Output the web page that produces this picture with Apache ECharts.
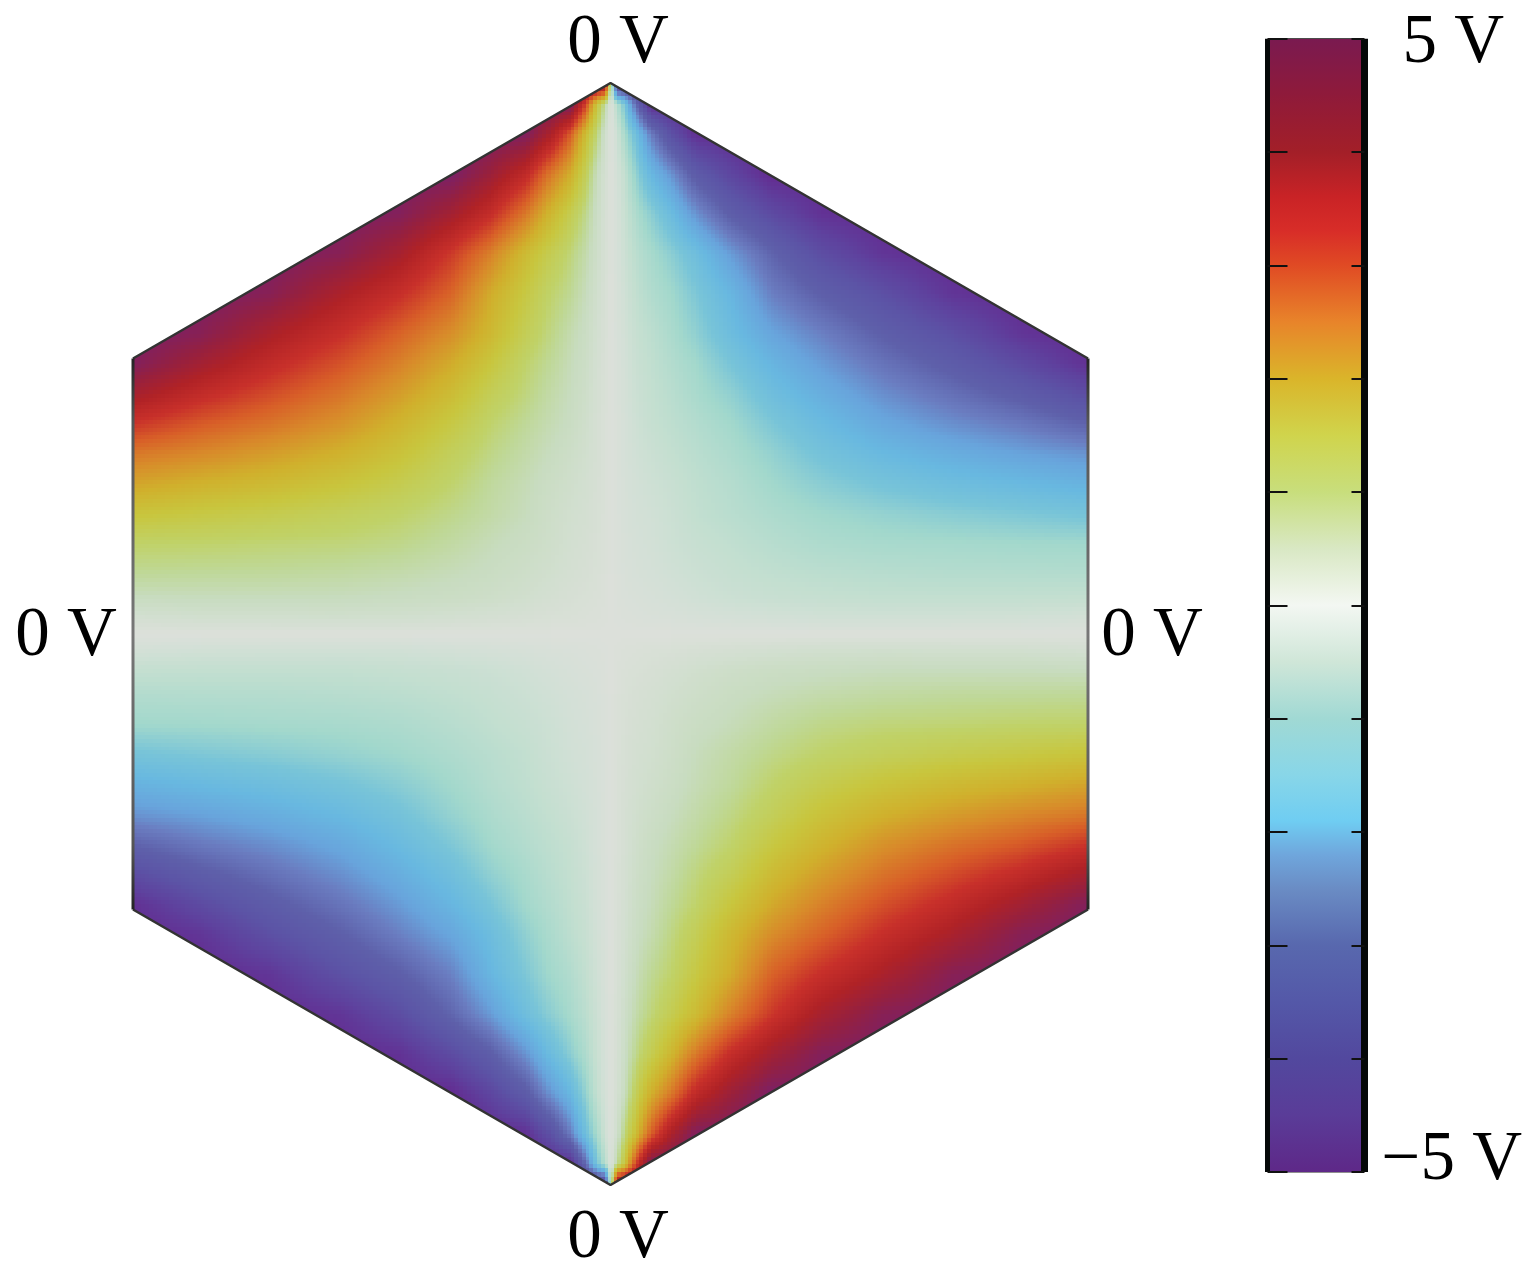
<!DOCTYPE html>
<html><head><meta charset="utf-8">
<style>html,body{margin:0;padding:0;background:#fff}#c{width:1539px;height:1279px}</style>
<script src="https://cdn.jsdelivr.net/npm/echarts@6/dist/echarts.min.js"></script>
</head><body><div id="c"></div>
<script>
// Colour scale (volts -> colour)
const barVolts  = [-5,-4.5,-4,-3.5,-3,-2.5,-2.2,-1.9,-1.5,-1,-0.5,0,0.5,1,1.5,2,2.5,3,3.3,3.6,4,4.5,5];
const barColors = ['#5e2888','#5a3c98','#52489e','#5458a8','#5868ae','#6a8cc4','#6fa6dc','#6fcdf2','#88d6e8','#a0d9d4','#cfe6d8','#f3f7f2','#d9e8c4','#c8de7c','#d0d44c','#dab52a','#e8842a','#e04a24','#d82d28','#c92326','#a31f28','#8f1a3a','#7a1a50'];
// The hexagon map itself is rendered in a duller tone than the bar
const mapVolts  = [-5,-4.5,-4,-3.5,-3,-2.5,-2,-1.5,-1,-0.5,-0.25,0,0.25,0.5,0.75,1,1.5,2,2.5,3,3.5,4,4.5,5];
const mapColors = ['#642a90','#5e429e','#5c54a6','#5e60aa','#6a7cc0','#68a4dc','#68b8e0','#78c4d8','#a2d8cc','#c4dfd0','#d2e0d6','#dce0da','#d2dfd0','#c8dcc0','#bfd898','#c0d268','#c8c63e','#d0b02c','#d88a2a','#d85f28','#c8302a','#b02226','#952040','#7a2068'];
const barTicks = [-5,-4,-3,-2,-1,0,1,2,3,4,5];
const barTickLabels = {'5':'5 V','-5':'\u22125 V'};

// Field mesh: distance from the hexagon's centre, and volts read at each mesh node (upper-left quadrant).
const meshDx = [0,6,14,25,40,60,85,120,160,210,270,340,410,477.5];
const meshDy = [0,15,35,60,90,120,150,180,210,240,270,300,340,380,420,460,500,530,551];
const quadrantVolts = [
[0,0,0,0,0,0,0,0,0,0,0,0,0,0],
[0,.02,.04,.06,.08,.1,.14,.18,.22,.26,.27,.26,.25,.2],
[0,.04,.07,.1,.14,.2,.28,.36,.42,.46,.5,.5,.5,.48],
[0,.05,.1,.15,.2,.28,.36,.46,.54,.62,.68,.72,.73,.75],
[0,.06,.12,.18,.24,.34,.44,.54,.68,.82,.9,.93,.98,1],
[0,.07,.14,.22,.27,.37,.52,.66,.82,1,1.15,1.3,1.42,1.55],
[0,.07,.15,.24,.32,.42,.56,.72,.98,1.28,1.55,1.78,1.95,2.15],
[0,.08,.18,.28,.38,.5,.64,.84,1.15,1.58,1.95,2.25,2.5,2.7],
[0,.08,.18,.32,.46,.58,.74,.98,1.42,1.89,2.38,2.75,3.05,3.45],
[0,.09,.2,.36,.5,.65,.88,1.2,1.74,2.24,2.75,3.2,3.65,4.2],
[0,.1,.22,.4,.54,.74,.98,1.5,2.06,2.59,3.13,3.65,4.25,4.85],
[0,.12,.25,.44,.6,.85,1.2,1.82,2.44,2.94,3.53,4.1,4.76,5],
[0,.14,.3,.52,.76,.98,1.42,2.05,2.94,3.54,4.08,4.75,5,5],
[0,.16,.36,.62,.9,1.25,1.75,2.6,3.4,4.17,4.75,5,5,5],
[0,.18,.42,.8,1.25,1.85,2.7,3.6,4.25,4.83,5,5,5,5],
[0,.22,.5,1.15,2,2.7,3.7,4.4,5,5,5,5,5,5],
[0,.32,.9,1.7,3,4.1,4.9,5,5,5,5,5,5,5],
[0,.7,1.5,3.3,5,5,5,5,5,5,5,5,5,5],
[0,5,5,5,5,5,5,5,5,5,5,5,5,5]
];
// Hexagon outline, same units as the mesh
const hexX = [0,477.5,477.5,0,-477.5,-477.5,0];
const hexY = [551,275.5,-275.5,-551,-275.5,275.5,551];
const edgeTexts = ['0 V','\u22125 V','0 V','5 V','0 V','\u22125 V','0 V','5 V'];

// ---- build the full mesh from the quadrant: the field changes sign across both centre lines
const xs = meshDx.slice(1).reverse().map(d=>-d).concat(meshDx);
const ys = meshDy.slice(1).reverse().map(d=>-d).concat(meshDy);
const n0 = meshDx.length-1, m0 = meshDy.length-1;
function nodeV(i,j){
  const dx=i-n0, dy=j-m0, s=(dx<0?1:-1)*(dy>0?1:-1);
  return s*quadrantVolts[Math.abs(dy)][Math.abs(dx)];
}
const cells=[];
for(let j=0;j<ys.length-1;j++)for(let i=0;i<xs.length-1;i++){
  cells.push([xs[i],ys[j],xs[i+1],ys[j+1],nodeV(i,j),nodeV(i+1,j),nodeV(i,j+1),nodeV(i+1,j+1)]);
}
const hexRGB=c=>[1,3,5].map(k=>parseInt(c.substr(k,2),16));
const mapRGB=mapColors.map(hexRGB);
function voltColor(v){
  v=Math.max(-5,Math.min(5,v));
  let k=0;while(k<mapVolts.length-2&&v>mapVolts[k+1])k++;
  const t=(v-mapVolts[k])/(mapVolts[k+1]-mapVolts[k]),a=mapRGB[k],b=mapRGB[k+1];
  return 'rgb('+Math.round(a[0]+(b[0]-a[0])*t)+','+Math.round(a[1]+(b[1]-a[1])*t)+','+Math.round(a[2]+(b[2]-a[2])*t)+')';
}
function renderField(params,api){
  const x0=api.value(0),y0=api.value(1),x1=api.value(2),y1=api.value(3);
  const v00=api.value(4),v10=api.value(5),v01=api.value(6),v11=api.value(7);
  const p0=api.coord([x0,y0]),p1=api.coord([x1,y1]);
  const nx=Math.max(1,Math.round((p1[0]-p0[0])/4)),ny=Math.max(1,Math.round((p0[1]-p1[1])/4));
  const children=[];
  for(let b=0;b<ny;b++)for(let a=0;a<nx;a++){
    const u=(a+.5)/nx,w=(b+.5)/ny;
    const v=v00*(1-u)*(1-w)+v10*u*(1-w)+v01*(1-u)*w+v11*u*w;
    const L=Math.round(p0[0]+(p1[0]-p0[0])*a/nx),R=Math.round(p0[0]+(p1[0]-p0[0])*(a+1)/nx);
    const B=Math.round(p0[1]+(p1[1]-p0[1])*b/ny),T=Math.round(p0[1]+(p1[1]-p0[1])*(b+1)/ny);
    children.push({type:'rect',shape:{x:L,y:T,width:R-L,height:B-T},style:{fill:voltColor(v)},silent:true});
  }
  return {type:'group',children};
}
// White masks cut the square mesh down to the hexagon
const corners=[
  [hexX[0],hexY[0],hexX[1],hexY[1],hexX[1],hexY[0]],
  [hexX[2],hexY[2],hexX[3],hexY[3],hexX[2],hexY[3]],
  [hexX[3],hexY[3],hexX[4],hexY[4],hexX[4],hexY[3]],
  [hexX[5],hexY[5],hexX[6],hexY[6],hexX[5],hexY[6]]
];
function renderMask(params,api){
  const pts=[0,2,4].map(k=>api.coord([api.value(k),api.value(k+1)]));
  const o=pts[2];o[0]+=o[0]<610?-3:3;o[1]+=o[1]<634?-3:3;
  return {type:'polygon',shape:{points:pts},style:{fill:'#fff'},silent:true};
}
function renderBar(params,api){
  const a=api.value(0),b=api.value(1);
  const pa=api.coord([0,a]),pb=api.coord([1,b]);
  const T=Math.round(pb[1]),B=Math.round(pa[1]);
  return {type:'rect',shape:{x:pa[0],y:T,width:pb[0]-pa[0],height:B-T},silent:true,
    style:{fill:new echarts.graphic.LinearGradient(0,1,0,0,[{offset:0,color:barColors[params.dataIndex]},{offset:1,color:barColors[params.dataIndex+1]}])}};
}
const sideEdgeColor=new echarts.graphic.LinearGradient(0,0,0,1,[{offset:0,color:'#222'},{offset:.12,color:'#555'},{offset:.5,color:'#777'},{offset:.88,color:'#555'},{offset:1,color:'#222'}]);
const labelFont={fontFamily:'"Liberation Serif"',fontSize:69,fill:'#000'};
const labelAnchors=[[618,44],[925,184],[1152,637],[908,1114],[618,1239],[264,1067],[66,637],[310,184]];
const chart=echarts.init(document.getElementById('c'),null,{renderer:'canvas'});
chart.setOption({
  animation:false,backgroundColor:'#fff',
  grid:[
    {left:133,top:83,width:955,height:1102},
    {left:1270,top:38.7,width:91,height:1133.3,show:true,borderColor:'#222',borderWidth:1,backgroundColor:'transparent'}
  ],
  xAxis:[
    {gridIndex:0,type:'value',min:-477.5,max:477.5,show:false},
    {gridIndex:1,type:'value',min:0,max:1,show:false}
  ],
  yAxis:[
    {gridIndex:0,type:'value',min:-551,max:551,show:false},
    {gridIndex:1,type:'value',min:-5,max:5,interval:1,position:'left',offset:2.5,z:10,
      axisLine:{show:true,onZero:false,lineStyle:{color:'#050808',width:5,cap:'butt'}},
      axisTick:{show:true,inside:true,length:20,lineStyle:{color:'#111',width:2}},
      axisLabel:{show:false},splitLine:{show:false}},
    {gridIndex:1,type:'value',min:-5,max:5,interval:1,position:'right',offset:3.5,z:10,
      axisLine:{show:true,onZero:false,lineStyle:{color:'#050808',width:7,cap:'butt'}},
      axisTick:{show:true,inside:true,length:13,lineStyle:{color:'#111',width:2}},
      splitLine:{show:false},
      axisLabel:{show:true,margin:0,color:'#000',fontFamily:'"Liberation Serif"',fontSize:69,align:'left',
        showMinLabel:true,showMaxLabel:true,
        formatter:v=>barTickLabels[String(v)]?(v>0?'{p|'+barTickLabels[String(v)]+'}':'{n|'+barTickLabels[String(v)]+'}'):'',
        rich:{p:{fontFamily:'"Liberation Serif"',fontSize:69,padding:[10,0,0,38]},n:{fontFamily:'"Liberation Serif"',fontSize:69,padding:[0,0,22,17]}}}}
  ],
  graphic:edgeTexts.map((t,i)=>({type:'text',x:labelAnchors[i][0],y:labelAnchors[i][1],
    style:Object.assign({text:t,textAlign:'center',textVerticalAlign:'middle'},labelFont),silent:true})),
  series:[
    {type:'custom',name:'Potential',xAxisIndex:0,yAxisIndex:0,coordinateSystem:'cartesian2d',renderItem:renderField,data:cells,progressive:0,silent:true,z:1},
    {type:'custom',name:'Mask',xAxisIndex:0,yAxisIndex:0,coordinateSystem:'cartesian2d',renderItem:renderMask,data:corners,progressive:0,silent:true,z:2},
    {type:'line',name:'Slanted edges',xAxisIndex:0,yAxisIndex:0,symbol:'none',silent:true,z:3,
      data:[[hexX[5],hexY[5]],[hexX[0],hexY[0]],[hexX[1],hexY[1]],[null,null],[hexX[2],hexY[2]],[hexX[3],hexY[3]],[hexX[4],hexY[4]]],
      connectNulls:false,lineStyle:{color:'#333',width:2.5}},
    {type:'line',name:'Right edge',xAxisIndex:0,yAxisIndex:0,symbol:'none',silent:true,z:3,
      data:[[hexX[1],hexY[1]],[hexX[2],hexY[2]]],lineStyle:{color:sideEdgeColor,width:3}},
    {type:'line',name:'Left edge',xAxisIndex:0,yAxisIndex:0,symbol:'none',silent:true,z:3,
      data:[[hexX[4],hexY[4]],[hexX[5],hexY[5]]],lineStyle:{color:sideEdgeColor,width:3}},
    {type:'custom',name:'Colour bar',xAxisIndex:1,yAxisIndex:1,coordinateSystem:'cartesian2d',renderItem:renderBar,
      data:barVolts.slice(0,-1).map((v,i)=>[v,barVolts[i+1]]),encode:{y:[0,1]},progressive:0,silent:true,z:1}
  ]
});
</script></body></html>
